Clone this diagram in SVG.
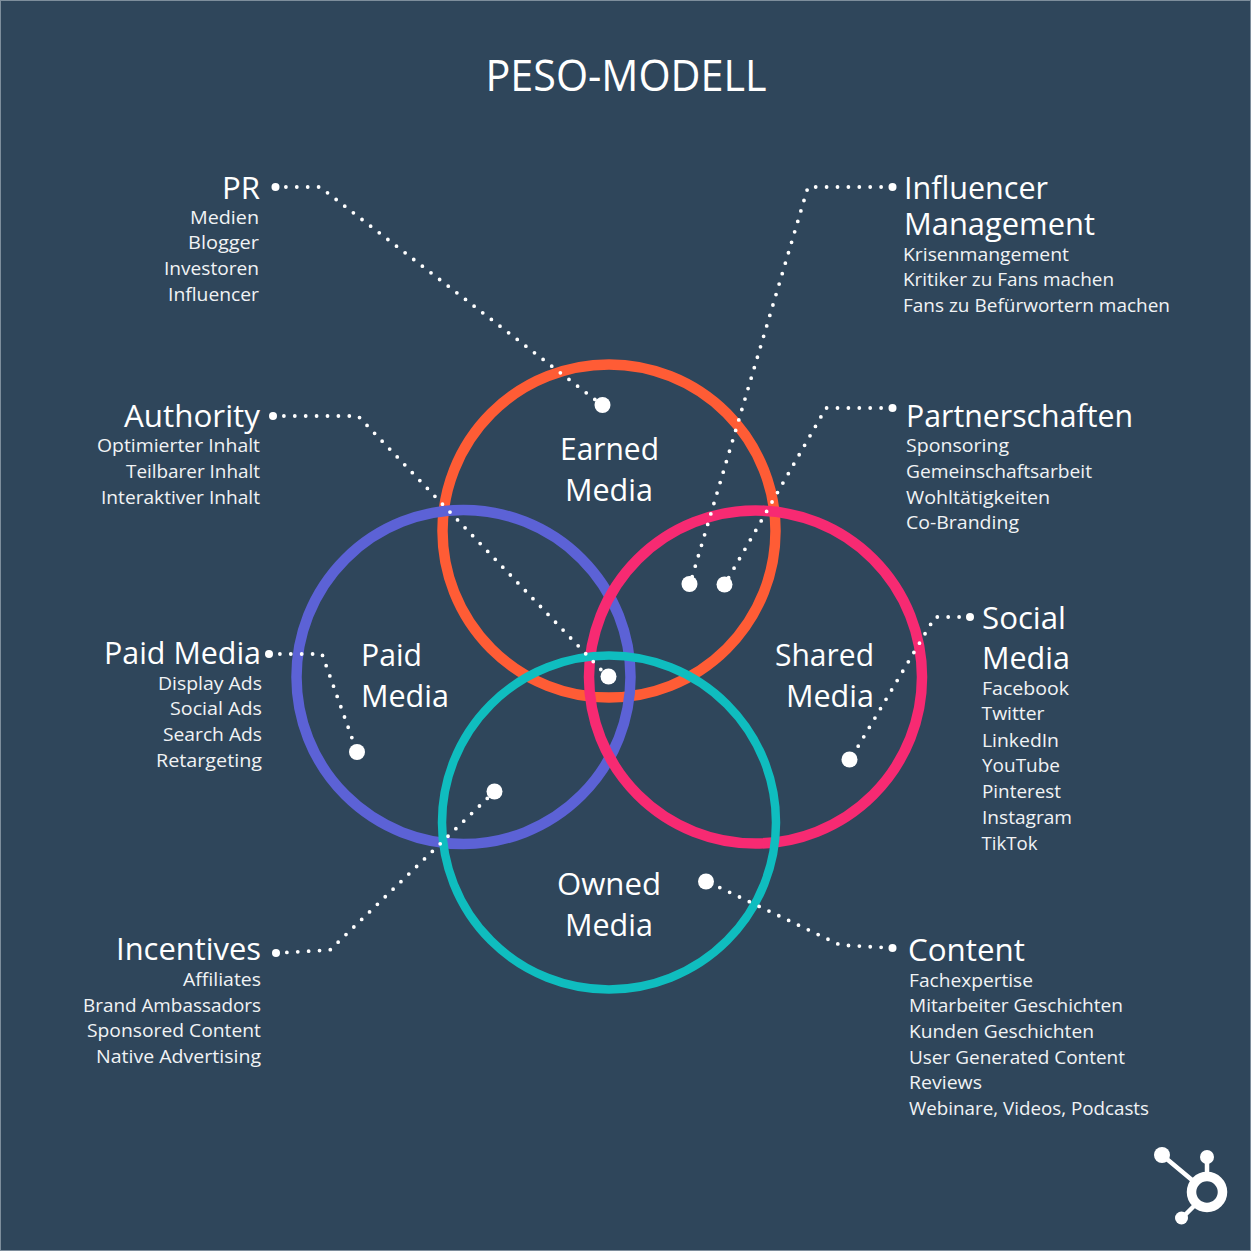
<svg xmlns="http://www.w3.org/2000/svg" width="1251" height="1251" viewBox="0 0 1251 1251">
<style>
text{font-family:"Open Sans","Noto Sans","Liberation Sans",sans-serif;fill:#fff}
.t{font-size:44px}
.h{font-size:30.5px}
.s{font-size:19px;fill:#f1f3f5}
.c{font-size:31px}
.ring{fill:none;stroke-width:10.5}
.dots{fill:none;stroke:#fff;stroke-width:3.8;stroke-linecap:round;stroke-dasharray:0 10.9}
.start{fill:#fff}
.end{fill:#fff}
.logo{fill:none;stroke:#fff}
</style>
<rect x="0" y="0" width="1251" height="1251" fill="#2F465B"/>
<rect x="0.5" y="0.5" width="1250" height="1250" fill="none" stroke="#7E8E9C" stroke-width="1"/>
<text class="t" x="485.500" y="91" textLength="281" lengthAdjust="spacingAndGlyphs">PESO-MODELL</text>

<g id="circles">
<g id="earned-media"><circle class="ring" cx="609" cy="531" r="166.500" stroke="#FF5C35"/>
<text class="c" x="560" y="460" textLength="99" lengthAdjust="spacingAndGlyphs">Earned</text><text class="c" x="565" y="501" textLength="88" lengthAdjust="spacingAndGlyphs">Media</text></g>
<g id="paid-media"><circle class="ring" cx="463.500" cy="677" r="167" stroke="#5C62D6"/>
<text class="c" x="361" y="666" textLength="61" lengthAdjust="spacingAndGlyphs">Paid</text><text class="c" x="361" y="707" textLength="88" lengthAdjust="spacingAndGlyphs">Media</text></g>
<g id="shared-media"><circle class="ring" cx="755.500" cy="677" r="166.500" stroke="#F72A72"/>
<text class="c" x="775" y="666" textLength="99" lengthAdjust="spacingAndGlyphs">Shared</text><text class="c" x="786" y="707" textLength="88" lengthAdjust="spacingAndGlyphs">Media</text></g>
<g id="owned-media"><circle class="ring" style="stroke-width:8.500" cx="609" cy="822.500" r="167" stroke="#0FBDBF"/>
<text class="c" x="557" y="895" textLength="104" lengthAdjust="spacingAndGlyphs">Owned</text><text class="c" x="565" y="936" textLength="88" lengthAdjust="spacingAndGlyphs">Media</text></g>
</g>

<g id="connectors">
<path class="dots" d="M275 187H320L602 405"/>
<path class="dots" d="M892 187H808L690 584"/>
<path class="dots" d="M892 408H826L725 584"/>
<path class="dots" d="M273 416H358L608 677"/>
<path class="dots" d="M269 654H322L357 752"/>
<path class="dots" d="M276 953L330 950L495 791"/>
<path class="dots" d="M970 617H935L850 760"/>
<path class="dots" d="M892 948L840 945L706 881"/>
<g class="start"><circle cx="275.500" cy="187" r="4"/><circle cx="892.500" cy="187" r="4"/><circle cx="892.500" cy="408" r="4"/><circle cx="273" cy="416" r="4"/><circle cx="269" cy="654" r="4"/><circle cx="276" cy="953" r="4"/><circle cx="970" cy="617" r="4"/><circle cx="892.500" cy="948" r="4"/></g>
<g class="end"><circle cx="602.500" cy="405" r="8"/><circle cx="689.500" cy="584" r="8"/><circle cx="724.500" cy="584.500" r="8"/><circle cx="608.500" cy="676.500" r="8"/><circle cx="357" cy="752" r="8"/><circle cx="494.500" cy="791.500" r="8"/><circle cx="849.500" cy="759.500" r="8"/><circle cx="706" cy="881.500" r="8"/></g>
</g>

<g id="pr">
<text class="h" x="222" y="199" textLength="38" lengthAdjust="spacingAndGlyphs">PR</text>
<text class="s" x="190" y="224" textLength="69" lengthAdjust="spacingAndGlyphs">Medien</text>
<text class="s" x="188" y="249" textLength="71" lengthAdjust="spacingAndGlyphs">Blogger</text>
<text class="s" x="164" y="275" textLength="95" lengthAdjust="spacingAndGlyphs">Investoren</text>
<text class="s" x="168" y="301" textLength="91" lengthAdjust="spacingAndGlyphs">Influencer</text>
</g>
<g id="authority">
<text class="h" x="124" y="427" textLength="136" lengthAdjust="spacingAndGlyphs">Authority</text>
<text class="s" x="97" y="452" textLength="163" lengthAdjust="spacingAndGlyphs">Optimierter Inhalt</text>
<text class="s" x="126" y="478" textLength="134" lengthAdjust="spacingAndGlyphs">Teilbarer Inhalt</text>
<text class="s" x="101" y="504" textLength="159" lengthAdjust="spacingAndGlyphs">Interaktiver Inhalt</text>
</g>
<g id="paid">
<text class="h" x="104" y="664" textLength="157" lengthAdjust="spacingAndGlyphs">Paid Media</text>
<text class="s" x="158" y="690" textLength="104" lengthAdjust="spacingAndGlyphs">Display Ads</text>
<text class="s" x="170" y="715" textLength="92" lengthAdjust="spacingAndGlyphs">Social Ads</text>
<text class="s" x="163" y="741" textLength="99" lengthAdjust="spacingAndGlyphs">Search Ads</text>
<text class="s" x="156" y="767" textLength="106" lengthAdjust="spacingAndGlyphs">Retargeting</text>
</g>
<g id="incentives">
<text class="h" x="116" y="960" textLength="145" lengthAdjust="spacingAndGlyphs">Incentives</text>
<text class="s" x="183" y="986" textLength="78" lengthAdjust="spacingAndGlyphs">Affiliates</text>
<text class="s" x="83" y="1012" textLength="178" lengthAdjust="spacingAndGlyphs">Brand Ambassadors</text>
<text class="s" x="87" y="1037" textLength="174" lengthAdjust="spacingAndGlyphs">Sponsored Content</text>
<text class="s" x="96" y="1063" textLength="165" lengthAdjust="spacingAndGlyphs">Native Advertising</text>
</g>
<g id="influencer">
<text class="h" x="904" y="199" textLength="144" lengthAdjust="spacingAndGlyphs">Influencer</text>
<text class="h" x="904" y="235" textLength="191" lengthAdjust="spacingAndGlyphs">Management</text>
<text class="s" x="903" y="261" textLength="166" lengthAdjust="spacingAndGlyphs">Krisenmangement</text>
<text class="s" x="903" y="286" textLength="211" lengthAdjust="spacingAndGlyphs">Kritiker zu Fans machen</text>
<text class="s" x="903" y="312" textLength="267" lengthAdjust="spacingAndGlyphs">Fans zu Befürwortern machen</text>
</g>
<g id="partnerschaften">
<text class="h" x="906" y="427" textLength="227" lengthAdjust="spacingAndGlyphs">Partnerschaften</text>
<text class="s" x="906" y="452" textLength="103" lengthAdjust="spacingAndGlyphs">Sponsoring</text>
<text class="s" x="906" y="478" textLength="186" lengthAdjust="spacingAndGlyphs">Gemeinschaftsarbeit</text>
<text class="s" x="906" y="504" textLength="144" lengthAdjust="spacingAndGlyphs">Wohltätigkeiten</text>
<text class="s" x="906" y="529" textLength="113" lengthAdjust="spacingAndGlyphs">Co-Branding</text>
</g>
<g id="social">
<text class="h" x="982" y="629" textLength="84" lengthAdjust="spacingAndGlyphs">Social</text>
<text class="h" x="982" y="669" textLength="88" lengthAdjust="spacingAndGlyphs">Media</text>
<text class="s" x="982" y="695" textLength="87" lengthAdjust="spacingAndGlyphs">Facebook</text>
<text class="s" x="981.500" y="720" textLength="63" lengthAdjust="spacingAndGlyphs">Twitter</text>
<text class="s" x="982" y="747" textLength="77" lengthAdjust="spacingAndGlyphs">LinkedIn</text>
<text class="s" x="982" y="772" textLength="78" lengthAdjust="spacingAndGlyphs">YouTube</text>
<text class="s" x="982" y="798" textLength="79" lengthAdjust="spacingAndGlyphs">Pinterest</text>
<text class="s" x="982" y="824" textLength="90" lengthAdjust="spacingAndGlyphs">Instagram</text>
<text class="s" x="981.500" y="850" textLength="56" lengthAdjust="spacingAndGlyphs">TikTok</text>
</g>
<g id="content">
<text class="h" x="908" y="961" textLength="117" lengthAdjust="spacingAndGlyphs">Content</text>
<text class="s" x="909" y="987" textLength="124" lengthAdjust="spacingAndGlyphs">Fachexpertise</text>
<text class="s" x="909" y="1012" textLength="214" lengthAdjust="spacingAndGlyphs">Mitarbeiter Geschichten</text>
<text class="s" x="909" y="1038" textLength="185" lengthAdjust="spacingAndGlyphs">Kunden Geschichten</text>
<text class="s" x="909" y="1064" textLength="216" lengthAdjust="spacingAndGlyphs">User Generated Content</text>
<text class="s" x="909" y="1089" textLength="73" lengthAdjust="spacingAndGlyphs">Reviews</text>
<text class="s" x="909" y="1115" textLength="240" lengthAdjust="spacingAndGlyphs">Webinare, Videos, Podcasts</text>
</g>
<g id="hubspot-logo">
<path class="logo" stroke-width="4.500" d="M1162 1155L1192 1180M1207 1157V1175M1182 1218L1195 1205"/>
<circle class="logo" cx="1207" cy="1192" r="15.500" stroke-width="9.500"/>
<g fill="#fff"><circle cx="1162" cy="1155" r="8"/><circle cx="1207" cy="1157" r="7"/><circle cx="1181.500" cy="1218" r="6.500"/></g>
</g>
</svg>
